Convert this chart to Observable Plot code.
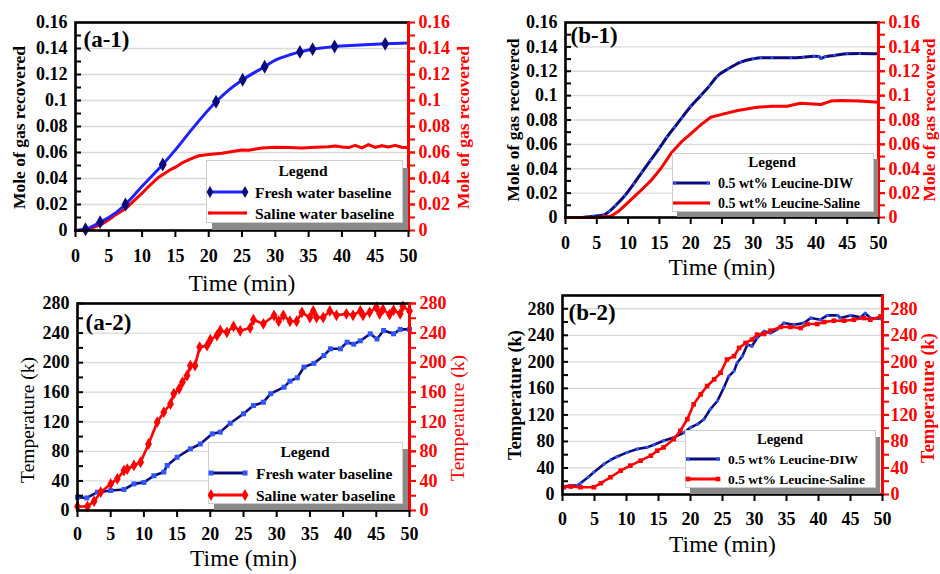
<!DOCTYPE html>
<html><head><meta charset="utf-8">
<script src="https://cdn.jsdelivr.net/npm/d3@7"></script>
<script src="https://cdn.jsdelivr.net/npm/@observablehq/plot@0.6"></script>
<style>
body{margin:0;background:#fff;}
#root{position:relative;width:940px;height:574px;overflow:hidden;background:#fff;font-family:"Liberation Serif",serif;}
#root svg, #root svg text, #root svg g{font-family:"Liberation Serif",serif !important;}
.panel{position:absolute;}
</style></head><body><div id="root"></div><script>
// ---------- data ----------
const xTicks = [0,5,10,15,20,25,30,35,40,45,50];
const gasTicks = [0,0.02,0.04,0.06,0.08,0.1,0.12,0.14,0.16];
const gasAllTicks = [0.01,0.02,0.03,0.04,0.05,0.06,0.07,0.08,0.09,0.1,0.11,0.12,0.13,0.14,0.15];
const tempTicks = [0,40,80,120,160,200,240,280];
const tempAllTicks = [20,40,60,80,100,120,140,160,180,200,220,240,260,280];
const legendA = ["Fresh water baseline","Saline water baseline"];
const legendB = ["0.5 wt% Leucine-DIW","0.5 wt% Leucine-Saline"];
const panelTags = ["(a-1)","(b-1)","(a-2)","(b-2)"];
const gasTitle = "Mole of gas recovered";
const tempTitle = "Temperature (k)";
const timeTitle = "Time (min)";

// (a-1) mole of gas, [time, value]
const a1Fresh = [[0,0],[1.5,0.001],[3.7,0.0064],[5,0.010],[7.5,0.020],[10,0.034],[13.1,0.0508],[15,0.062],[17.5,0.078],[21.1,0.099],[23,0.108],[25.1,0.116],[28.4,0.126],[30,0.131],[31.5,0.134],[33.7,0.1374],[35.6,0.1395],[38.9,0.1415],[42,0.1425],[46.5,0.1436],[50,0.1443]];
const a1FreshMarks = [[1.5,0.001],[3.7,0.0064],[7.5,0.020],[13.1,0.0508],[21.1,0.099],[25.1,0.116],[28.4,0.126],[33.7,0.1374],[35.6,0.1395],[38.9,0.1415],[46.5,0.1436]];
const a1Saline = [[0,0],[2,0.001],[4,0.005],[5,0.0082],[6,0.012],[7.5,0.0167],[9,0.024],[10,0.0287],[11,0.034],[12.5,0.041],[14,0.046],[15,0.0487],[16,0.052],[17.5,0.0555],[18.5,0.0575],[20,0.0585],[22,0.0595],[24,0.0612],[25,0.062],[26,0.0618],[28,0.0635],[30,0.064],[32,0.0638],[34,0.0635],[36,0.064],[38,0.0645],[39,0.065],[40,0.0643],[41,0.0638],[42,0.0655],[43,0.0635],[44,0.066],[45,0.064],[46,0.0652],[47,0.0642],[48,0.0655],[49,0.064],[50,0.0637]];

// (b-1)
const b1Diw = [[0,0],[2,0],[4.4,0.001],[6.1,0.002],[7,0.005],[8,0.0098],[9.5,0.018],[10.9,0.0276],[12.2,0.037],[13.6,0.047],[15,0.057],[16.2,0.066],[17.4,0.074],[18.6,0.082],[20,0.091],[21.6,0.100],[23,0.108],[24.2,0.1157],[26,0.122],[28,0.1275],[30,0.1302],[31.2,0.131],[33,0.131],[36,0.131],[38,0.1315],[39.7,0.1324],[40.5,0.1322],[40.8,0.1305],[41.5,0.132],[43,0.133],[45,0.1343],[47,0.1345],[50,0.1343]];
const b1Saline = [[0,0],[3,0],[5,0],[7.2,0.001],[8.5,0.0052],[9.5,0.010],[10.9,0.0167],[12.2,0.023],[13.6,0.030],[15.2,0.040],[17,0.0536],[18.5,0.062],[20,0.0687],[21.6,0.076],[23.2,0.0823],[25.3,0.085],[27.5,0.0878],[30.6,0.0905],[33,0.0912],[35.4,0.0913],[37.5,0.0938],[40.8,0.0927],[42.4,0.0955],[44,0.096],[47,0.0955],[50,0.0946]];

// (a-2) temperature
const a2Fresh = [[0,18],[1.4,17],[3,24.8],[5,27],[7,28.4],[8.5,36],[10,38],[11.5,47],[13,52],[13.5,61],[15,72],[17,83.4],[18.5,90],[20.3,103.7],[21.5,106],[23,118],[25,130.8],[26.5,142],[28,146.5],[29.1,158],[31.1,166.8],[32,175],[33.1,179.5],[34.1,194],[35.6,199],[37.1,209.7],[38.1,218.7],[39.6,218.7],[40.6,227.7],[41.6,225],[42.6,229.5],[44.1,239],[45.1,232],[46.1,243.5],[47.6,239],[48.6,245],[50,245]];
const a2Saline = [[0,5.4],[1.5,5.4],[2.5,12.6],[3.5,24.8],[5,36],[6,42.8],[7,54],[7.5,56],[8.5,61],[9.5,65.3],[10.7,90],[12,119.5],[13,133],[14,144],[14.5,158],[15.3,164.6],[15.8,173.5],[16.5,182.6],[17,196],[17.7,196],[18.4,221],[19.5,223],[20,231],[21,236.7],[21.5,243.5],[22.5,241],[23.5,249],[24.5,243],[26,247],[26.5,258],[28,252.5],[29.6,263.8],[30.3,256],[31,264],[32,256],[33,256],[33.8,268],[35,261],[35.5,270],[36,261],[37,261],[38,270],[39,264],[40.5,266],[41.5,264],[42.6,270],[43,264],[44,268],[45,275],[45.5,266],[46,272],[47,265],[47.6,271],[48.6,266],[49,276],[50,270]];

// (b-2)
const b2Diw = [[0.2,12],[1.3,13.5],[2.3,13.5],[2.8,17],[4,26],[4.9,33.5],[6.5,46],[7.5,52],[8.5,57],[10.1,63.5],[11.7,68.5],[13.2,71],[14.3,75],[15.8,81],[17.4,86],[19,93.5],[20,101],[21.1,106],[22.1,113.5],[23.1,128.5],[24.2,141],[25.2,161],[26,178.5],[26.8,186],[27.3,198.5],[28.1,208.5],[28.9,226],[29.6,223.5],[30.4,236],[31.5,246],[32.5,243.5],[33.5,248.5],[34.6,258.5],[36.2,256],[37.7,258.5],[38.8,266],[40.3,263.5],[41.4,270],[43,270],[43.4,266],[45,270],[46.6,267],[47.3,273.5],[48.1,266],[49.7,265]];
const b2Saline = [[0.2,11],[1.3,12],[2.8,11],[4.9,11],[6,17],[7.5,26],[9.1,36],[10.6,43.5],[12.2,51],[13.8,58.5],[14.8,66],[15.8,71],[17.4,83.5],[18.4,96],[19.5,113.5],[20.5,136],[21.6,151],[22.6,163.5],[23.7,173.5],[24.7,183.5],[25.7,203.5],[26.8,208.5],[27.6,221],[28.6,228.5],[29.6,233.5],[30.4,241],[31.5,242],[32.5,247],[34.1,252.5],[35.6,252.5],[37.2,251],[38.3,257],[39.8,257],[40.9,260],[42.4,262],[44,262],[45.5,263.5],[47.1,266],[48.1,263.5],[49.7,268.5]];

// ---------- drawing ----------
const FONT = '"Liberation Serif", serif';
const RED = "#ff0000", NAVY = "#0b0b7a", BLUE = "#1e22ff", MBLUE = "#2f55ff";
const root = document.getElementById("root");
const gasFmt = d => String(+d.toFixed(2));
const tempFmt = d => String(d);
const X = d => d[0], Y = d => d[1];
const F = {fontFamily: FONT};

function panel(c) {
  const plotW = c.width - c.ml - c.mr;
  const chart = Plot.plot({
    width: c.width, height: c.height,
    marginTop: c.mt, marginRight: c.mr, marginBottom: c.mb, marginLeft: c.ml,
    style: {fontFamily: FONT, background: "transparent", overflow: "visible", color: "black"},
    x: {domain: [0, 50]},
    y: {domain: c.yDomain},
    marks: [
      Plot.ruleY(c.yMajor.slice(1), {stroke: "#d9d9d9", strokeWidth: 1.3}),
      ...c.marks,
      Plot.frame({stroke: "black", strokeWidth: 2.6}),
      Plot.ruleX([50], {stroke: RED, strokeWidth: 3}),
      Plot.tickY(c.yAll, {y: d => d, stroke: "black", strokeWidth: 2, insetRight: plotW - 6}),
      Plot.axisY(c.yMajor, {...F, anchor: "left", label: null, tickSize: 0, tickPadding: 8, tickFormat: c.fmt, fontSize: 18, fontWeight: "bold", fill: "black"}),
      Plot.axisY(c.yAll, {...F, anchor: "right", label: null, tickSize: 6, tickFormat: () => "", stroke: RED, strokeWidth: 2, color: RED}),
      Plot.axisY(c.yMajor, {...F, anchor: "right", label: null, tickSize: 6, tickPadding: c.rpad, tickFormat: c.fmt, fontSize: 18, fontWeight: "bold", fill: RED, stroke: RED, strokeWidth: 2, color: RED}),
      Plot.axisX(xTicks, {...F, anchor: "bottom", label: null, tickSize: 7, tickPadding: c.xpad, fontSize: 18, fontWeight: "bold", strokeWidth: 2}),
      Plot.text([c.yTitle], {...F, text: d => d, frameAnchor: "left", dx: c.ltx, dy: c.lty, rotate: -90, textAnchor: "middle", lineAnchor: "middle", fontSize: c.tSize, fontWeight: c.tWeight, fill: "black"}),
      Plot.text([c.yTitle], {...F, text: d => d, frameAnchor: "right", dx: c.rtx, dy: c.rty, rotate: -90, textAnchor: "middle", lineAnchor: "middle", fontSize: c.tSize, fontWeight: c.tWeight, fill: RED}),
      Plot.text([timeTitle], {...F, text: d => d, frameAnchor: "bottom", dy: c.timeDy, textAnchor: "middle", lineAnchor: "middle", fontSize: 23.5, fill: "black"}),
      Plot.text([c.tag], {...F, text: d => d, frameAnchor: "top-left", dx: c.tagDx, dy: c.tagDy, textAnchor: "start", lineAnchor: "middle", fontSize: 23, fontWeight: "bold", fill: "black"})
    ]
  });
  chart.classList.add("panel");
  chart.style.left = c.left + "px";
  chart.style.top = c.top + "px";
  chart.style.maxWidth = "none";
  chart.querySelectorAll("text, g").forEach(el => el.style.fontFamily = FONT);
  root.appendChild(chart);
}

function legend(s) {
  const svg = d3.create("svg").attr("width", s.w + s.sx + 3).attr("height", s.h + s.sy + 3)
    .style("position", "absolute").style("left", s.x + "px").style("top", s.y + "px")
    .style("font-family", FONT);
  svg.append("rect").attr("x", s.sx).attr("y", s.sy).attr("width", s.w).attr("height", s.h).attr("fill", "#8a8a8a");
  svg.append("rect").attr("x", 0.5).attr("y", 0.5).attr("width", s.w).attr("height", s.h).attr("fill", "#fff").attr("stroke", "#cdcdcd");
  svg.append("text").attr("x", s.titleX).attr("y", s.titleY).attr("text-anchor", "middle").attr("dominant-baseline", "central")
    .attr("font-weight", "bold").attr("font-size", s.titleSize).text("Legend");
  s.items.forEach((it, i) => {
    const y = s.rows[i];
    svg.append("line").attr("x1", s.lx1).attr("x2", s.lx2).attr("y1", y).attr("y2", y).attr("stroke", it.stroke).attr("stroke-width", 3.2);
    [s.lx1 + 2, s.lx2 - 2].forEach(x => {
      svg.append("path").attr("transform", `translate(${x},${y})`).attr("d", d3.symbol(it.symbol, it.size)()).attr("fill", it.fill);
    });
    svg.append("text").attr("x", s.tx).attr("y", y).attr("dominant-baseline", "central").attr("font-weight", "bold")
      .attr("font-size", s.fontSize).text(s.labels[i]);
  });
  root.appendChild(svg.node());
}

// (a-1)
panel({left: 0, top: 0, width: 470, height: 295, mt: 22, mr: 62, mb: 65, ml: 75,
  yDomain: [0, 0.16], yMajor: gasTicks, yAll: gasAllTicks, fmt: gasFmt, rpad: 4, xpad: 12,
  yTitle: gasTitle, tSize: 17.5, tWeight: "bold", ltx: -56, lty: 1, rtx: 55, rty: 1,
  timeDy: 53, tag: panelTags[0], tagDx: 8, tagDy: 17,
  marks: [
    Plot.line(a1Saline, {x: X, y: Y, stroke: RED, strokeWidth: 3}),
    Plot.dot(a1Saline, {x: X, y: Y, r: 1.2, fill: RED}),
    Plot.line(a1Fresh, {x: X, y: Y, stroke: BLUE, strokeWidth: 3, curve: "monotone-x"}),
    Plot.dot(a1FreshMarks, {x: X, y: Y, symbol: "diamond", r: 4.2, fill: NAVY})
  ]});
// (b-1)
panel({left: 470, top: 0, width: 470, height: 290, mt: 22, mr: 62, mb: 73, ml: 95,
  yDomain: [0, 0.16], yMajor: gasTicks, yAll: gasAllTicks, fmt: gasFmt, rpad: 4, xpad: 12,
  yTitle: gasTitle, tSize: 17.5, tWeight: "bold", ltx: -52, lty: 0, rtx: 51, rty: 0,
  timeDy: 50, tag: panelTags[1], tagDx: 5, tagDy: 13,
  marks: [
    Plot.line(b1Diw, {x: X, y: Y, stroke: NAVY, strokeWidth: 3, curve: "monotone-x"}),
    Plot.dot(b1Diw, {x: X, y: Y, r: 1.3, fill: MBLUE}),
    Plot.line(b1Saline, {x: X, y: Y, stroke: RED, strokeWidth: 3}),
    Plot.dot(b1Saline, {x: X, y: Y, r: 1.3, fill: RED})
  ]});
// (a-2)
panel({left: 0, top: 290, width: 470, height: 284, mt: 13, mr: 61, mb: 64, ml: 77,
  yDomain: [0, 280], yMajor: tempTicks, yAll: tempAllTicks, fmt: tempFmt, rpad: 4, xpad: 10,
  yTitle: tempTitle, tSize: 19.5, tWeight: "normal", ltx: -50, lty: 13, rtx: 48, rty: 11,
  timeDy: 48, tag: panelTags[2], tagDx: 8, tagDy: 18.7,
  marks: [
    Plot.line(a2Fresh, {x: X, y: Y, stroke: NAVY, strokeWidth: 2.6}),
    Plot.dot(a2Fresh, {x: X, y: Y, symbol: "square", r: 2.8, fill: MBLUE}),
    Plot.line(a2Saline, {x: X, y: Y, stroke: RED, strokeWidth: 2.6}),
    Plot.dot(a2Saline, {x: X, y: Y, symbol: "diamond", r: 3.6, fill: RED})
  ]});
// (b-2)
panel({left: 470, top: 290, width: 470, height: 284, mt: 5, mr: 58, mb: 80, ml: 92,
  yDomain: [0, 300], yMajor: tempTicks, yAll: tempAllTicks, fmt: tempFmt, rpad: 2, xpad: 11,
  yTitle: tempTitle, tSize: 18.5, tWeight: "bold", ltx: -47, lty: 0, rtx: 46, rty: 3,
  timeDy: 50, tag: panelTags[3], tagDx: 6, tagDy: 16.7,
  marks: [
    Plot.line(b2Diw, {x: X, y: Y, stroke: NAVY, strokeWidth: 2.6}),
    Plot.dot(b2Diw, {x: X, y: Y, r: 1.7, fill: MBLUE}),
    Plot.line(b2Saline, {x: X, y: Y, stroke: RED, strokeWidth: 2.6}),
    Plot.dot(b2Saline, {x: X, y: Y, symbol: "square", r: 2.6, fill: RED})
  ]});

// legends
legend({x: 206, y: 160, w: 196, h: 62, sx: 6, sy: 8, titleX: 97, titleY: 10, titleSize: 15.5, rows: [32, 53],
  lx1: 2, lx2: 41, tx: 49, fontSize: 15.5, labels: legendA,
  items: [{stroke: BLUE, fill: NAVY, symbol: d3.symbolDiamond, size: 40}, {stroke: RED, fill: RED, symbol: d3.symbolCircle, size: 6}]});
legend({x: 672, y: 153, w: 201, h: 58, sx: 5, sy: 6, titleX: 100, titleY: 9, titleSize: 15, rows: [30, 50],
  lx1: 1, lx2: 38, tx: 46, fontSize: 14, labels: legendB,
  items: [{stroke: NAVY, fill: MBLUE, symbol: d3.symbolCircle, size: 8}, {stroke: RED, fill: RED, symbol: d3.symbolCircle, size: 8}]});
legend({x: 208, y: 442, w: 194, h: 61, sx: 6, sy: 7, titleX: 97, titleY: 9, titleSize: 15.5, rows: [31, 53],
  lx1: 1, lx2: 39, tx: 48, fontSize: 15.5, labels: legendA,
  items: [{stroke: NAVY, fill: MBLUE, symbol: d3.symbolSquare, size: 25}, {stroke: RED, fill: RED, symbol: d3.symbolDiamond, size: 40}]});
legend({x: 685, y: 430, w: 190, h: 57, sx: 5, sy: 7, titleX: 95, titleY: 9, titleSize: 14.5, rows: [29, 49],
  lx1: 1, lx2: 35, tx: 43, fontSize: 13.5, labels: legendB,
  items: [{stroke: NAVY, fill: MBLUE, symbol: d3.symbolCircle, size: 10}, {stroke: RED, fill: RED, symbol: d3.symbolSquare, size: 22}]});
</script></body></html>
